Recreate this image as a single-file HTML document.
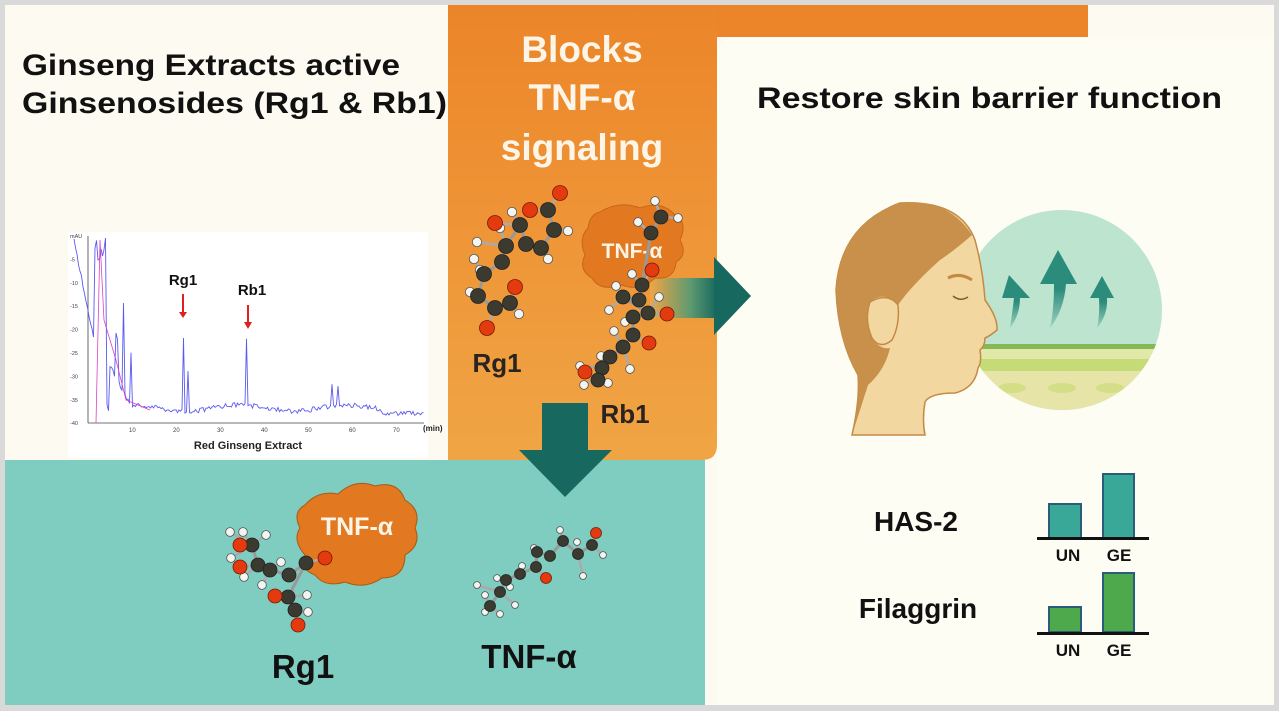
<!DOCTYPE html>
<html><head><meta charset="utf-8"><style>
html,body{margin:0;padding:0;width:1279px;height:711px;overflow:hidden;background:#d9d9d9}
svg{display:block}
text{font-family:"Liberation Sans","DejaVu Sans",sans-serif}
</style></head><body>
<svg id="s" width="1279" height="711" viewBox="0 0 1279 711" xmlns="http://www.w3.org/2000/svg">
<defs>
<linearGradient id="og" x1="0" y1="0" x2="0" y2="1"><stop offset="0" stop-color="#ec8529"/><stop offset="1" stop-color="#f0a545"/></linearGradient>
<linearGradient id="ar" x1="0" y1="0" x2="1" y2="0"><stop offset="0" stop-color="#f0a545"/><stop offset="0.6" stop-color="#5f9a70"/><stop offset="1" stop-color="#17695f"/></linearGradient>
<linearGradient id="up" x1="0" y1="0" x2="0" y2="1"><stop offset="0.5" stop-color="#2c8c7c"/><stop offset="1" stop-color="#2c8c7c" stop-opacity="0.2"/></linearGradient>
<clipPath id="cc"><circle cx="1062" cy="310" r="100"/></clipPath>
</defs>
<rect x="5" y="5" width="1269" height="700" fill="#fdfaf2"/>
<rect x="448" y="5" width="640" height="32" fill="#ec8529"/>
<path d="M448 5 H717 V445 Q717 460 702 460 H448 Z" fill="url(#og)"/>
<path d="M717 57 Q717 37 737 37 H1274 V705 H717 Z" fill="#fefdf3"/>
<rect x="5" y="460" width="700" height="245" fill="#7fcdc0"/>
<rect x="1274" y="0" width="5" height="711" fill="#d9d9d9"/>

<text x="22" y="75" font-size="30" font-weight="bold" fill="#111" textLength="378" lengthAdjust="spacingAndGlyphs">Ginseng Extracts active</text>
<text x="22" y="113" font-size="30" font-weight="bold" fill="#111" textLength="425" lengthAdjust="spacingAndGlyphs">Ginsenosides (Rg1 &amp; Rb1)</text>

<rect x="68" y="232" width="360" height="226" fill="#fff"/>
<g id="chrom"></g>
<text x="183" y="285" font-size="15" font-weight="bold" fill="#111" text-anchor="middle">Rg1</text>
<text x="252" y="295" font-size="15" font-weight="bold" fill="#111" text-anchor="middle">Rb1</text>
<line x1="183" y1="294" x2="183" y2="314" stroke="#e02020" stroke-width="2"/><path d="M179 312 L187 312 L183 318Z" fill="#e02020"/>
<line x1="248" y1="305" x2="248" y2="324" stroke="#e02020" stroke-width="2"/><path d="M244 322 L252 322 L248 329Z" fill="#e02020"/>
<text x="248" y="449" font-size="11" font-weight="bold" fill="#222" text-anchor="middle">Red Ginseng  Extract</text>
<text x="423" y="431" font-size="8" font-weight="bold" fill="#222">(min)</text>

<text x="582" y="62" font-size="37" font-weight="bold" fill="#fdf6e8" text-anchor="middle">Blocks</text>
<text x="582" y="110" font-size="37" font-weight="bold" fill="#fdf6e8" text-anchor="middle">TNF-α</text>
<text x="582" y="160" font-size="37" font-weight="bold" fill="#fdf6e8" text-anchor="middle">signaling</text>

<rect x="650" y="278" width="67" height="40" fill="url(#ar)"/>
<path d="M714 257 L751 296 L714 335Z" fill="#17695f"/>

<path d="M600 212 Q620 200 640 208 Q662 200 675 215 Q688 222 680 240 Q688 255 676 262 Q675 280 655 278 Q640 292 622 285 Q600 292 592 278 Q578 270 585 255 Q578 238 588 228 Q590 214 600 212Z" fill="#e2781f" stroke="#c8651a" stroke-width="1"/>
<text x="632" y="258" font-size="21" font-weight="bold" fill="#fdf6e8" text-anchor="middle">TNF-α</text>

<g id="mol"></g>

<text x="497" y="372" font-size="26" font-weight="bold" fill="#2a2320" text-anchor="middle">Rg1</text>
<text x="625" y="423" font-size="26" font-weight="bold" fill="#2a2320" text-anchor="middle">Rb1</text>

<rect x="542" y="403" width="46" height="48" fill="#17695f"/>
<path d="M519 450 L612 450 L565 497Z" fill="#17695f"/>

<path d="M305 505 Q318 490 338 494 Q355 478 375 486 Q398 480 405 500 Q422 510 415 528 Q422 545 405 555 Q405 578 382 578 Q365 590 345 582 Q325 588 315 575 Q300 570 305 555 Q292 540 300 528 Q292 512 305 505Z" fill="#e2781f" stroke="#a85a18" stroke-width="1"/>
<text x="357" y="535" font-size="25" font-weight="bold" fill="#fdf6e8" text-anchor="middle">TNF-α</text>
<g id="mol2"></g>
<text x="303" y="678" font-size="33" font-weight="bold" fill="#111" text-anchor="middle">Rg1</text>
<text x="529" y="668" font-size="33" font-weight="bold" fill="#111" text-anchor="middle">TNF-α</text>

<text x="757" y="108" font-size="30" font-weight="bold" fill="#111" textLength="465" lengthAdjust="spacingAndGlyphs">Restore skin barrier function</text>
<g clip-path="url(#cc)">
<rect x="960" y="205" width="210" height="210" fill="#bde4cf"/>
<rect x="960" y="344" width="210" height="5" fill="#86b85a"/>
<rect x="960" y="349" width="210" height="10" fill="#e2e8a8"/>
<rect x="960" y="359" width="210" height="12" fill="#c4db78"/>
<rect x="960" y="371" width="210" height="45" fill="#e6e4a6"/>
<ellipse cx="1012" cy="388" rx="14" ry="5" fill="#d3de86"/>
<ellipse cx="1062" cy="388" rx="14" ry="5" fill="#d3de86"/>
<ellipse cx="1110" cy="388" rx="14" ry="5" fill="#d3de86"/>
</g>
<path d="M1009 275 L1002 298 L1014 298 Q1012 315 1010 328 Q1020 315 1020 298 L1030 298Z" fill="url(#up)"/>
<path d="M1058 250 L1040 284 L1054 284 Q1054 310 1050 328 Q1064 310 1066 284 L1077 284Z" fill="url(#up)"/>
<path d="M1102 276 L1090 298 L1099 298 Q1100 315 1097 328 Q1108 315 1107 298 L1114 298Z" fill="url(#up)"/>
<path d="M852 435 Q860 400 858 375 Q838 340 836 290 Q840 225 900 203 Q960 200 975 240 Q983 270 985 300 Q998 318 997 330 Q990 336 985 338 Q985 346 980 350 Q982 362 978 368 Q975 388 955 393 Q930 393 925 402 Q922 420 925 435Z" fill="#f3d7a0" stroke="#c48a45" stroke-width="1.5"/>
<path d="M852 435 Q860 400 858 375 Q838 340 836 290 Q840 225 900 203 Q948 198 972 235 Q955 250 940 260 Q912 285 898 305 Q885 290 870 302 Q864 320 872 338 Q880 350 890 348 Q885 370 868 385 Q860 410 852 435Z" fill="#c8904a"/>
<path d="M870 302 Q888 292 898 305 Q900 325 892 340 Q880 350 872 338 Q864 320 870 302Z" fill="#f3d7a0" stroke="#c48a45" stroke-width="1.5"/>
<path d="M948 278 Q960 272 972 280" stroke="#c48a45" stroke-width="3" fill="none"/>
<path d="M953 296 Q960 302 968 297" stroke="#8a5a2a" stroke-width="1.5" fill="none"/>
<text x="916" y="531" font-size="28" font-weight="bold" fill="#111" text-anchor="middle">HAS-2</text>
<text x="918" y="618" font-size="28" font-weight="bold" fill="#111" text-anchor="middle">Filaggrin</text>
<rect x="1049" y="504" width="32" height="34" fill="#3aa898" stroke="#2b5c7a" stroke-width="2"/>
<rect x="1103" y="474" width="31" height="64" fill="#3aa898" stroke="#2b5c7a" stroke-width="2"/>
<rect x="1037" y="537" width="112" height="3" fill="#111"/>
<rect x="1049" y="607" width="32" height="25" fill="#4ea84c" stroke="#2b5c7a" stroke-width="2"/>
<rect x="1103" y="573" width="31" height="59" fill="#4ea84c" stroke="#2b5c7a" stroke-width="2"/>
<rect x="1037" y="632" width="112" height="3" fill="#111"/>
<text x="1068" y="561" font-size="17" font-weight="bold" fill="#111" text-anchor="middle">UN</text>
<text x="1119" y="561" font-size="17" font-weight="bold" fill="#111" text-anchor="middle">GE</text>
<text x="1068" y="656" font-size="17" font-weight="bold" fill="#111" text-anchor="middle">UN</text>
<text x="1119" y="656" font-size="17" font-weight="bold" fill="#111" text-anchor="middle">GE</text>
</svg>
<script>
var NS="http://www.w3.org/2000/svg";
function el(p,t,a){var e=document.createElementNS(NS,t);for(var k in a)e.setAttribute(k,a[k]);p.appendChild(e);return e;}
function mol(g,C,O,H,r){
 for(var i=0;i<C.length-1;i++)el(g,"line",{x1:C[i][0],y1:C[i][1],x2:C[i+1][0],y2:C[i+1][1],stroke:"#999","stroke-width":3});
 function near(p){var b=null,d=1e9;C.forEach(function(c){var dd=(c[0]-p[0])*(c[0]-p[0])+(c[1]-p[1])*(c[1]-p[1]);if(dd<d&&dd>1){d=dd;b=c;}});return b;}
 O.concat(H).forEach(function(p){var c=near(p);if(c)el(g,"line",{x1:p[0],y1:p[1],x2:c[0],y2:c[1],stroke:"#aaa","stroke-width":2.5});});
 H.forEach(function(p){el(g,"circle",{cx:p[0],cy:p[1],r:r*0.62,fill:"#f4f4f0",stroke:"#555","stroke-width":0.8});});
 C.forEach(function(p){el(g,"circle",{cx:p[0],cy:p[1],r:r,fill:"#3a3a30",stroke:"#222","stroke-width":0.8});});
 O.forEach(function(p){el(g,"circle",{cx:p[0],cy:p[1],r:r,fill:"#e33a10",stroke:"#7a1a05","stroke-width":0.8});});
}
var g=document.getElementById("mol"),g2=document.getElementById("mol2");
mol(g,[[548,210],[554,230],[541,248],[526,244],[520,225],[506,246],[502,262],[484,274],[478,296],[495,308],[510,303]],
 [[560,193],[530,210],[495,223],[515,287],[487,328]],
 [[512,212],[500,228],[477,242],[474,259],[470,292],[519,314],[568,231],[548,259],[480,270]],7.5);
mol(g,[[661,217],[651,233],[642,285],[639,300],[623,297],[648,313],[633,317],[633,335],[623,347],[610,357],[602,368],[598,380]],
 [[652,270],[667,314],[649,343],[585,372]],
 [[655,201],[678,218],[638,222],[632,274],[616,286],[659,297],[609,310],[625,322],[614,331],[601,356],[630,369],[580,366],[584,385],[608,383]],7);
mol(g2,[[252,545],[258,565],[270,570],[289,575],[306,563],[288,597],[295,610]],
 [[240,545],[240,567],[275,596],[298,625],[325,558]],
 [[230,532],[243,532],[266,535],[231,558],[244,577],[262,585],[281,562],[307,595],[308,612]],7);
mol(g2,[[592,545],[578,554],[563,541],[550,556],[537,552],[536,567],[520,574],[506,580],[500,592],[490,606]],
 [[596,533],[546,578]],
 [[560,530],[577,542],[603,555],[583,576],[534,548],[522,566],[497,578],[477,585],[510,587],[485,595],[485,612],[500,614],[515,605]],5.5);
var c=document.getElementById("chrom");
el(c,"line",{x1:88,y1:236,x2:88,y2:423,stroke:"#444","stroke-width":0.8});
el(c,"line",{x1:88,y1:423,x2:424,y2:423,stroke:"#444","stroke-width":0.8});
for(var i=1;i<8;i++){var x=88+i*44;el(c,"text",{x:x-3,y:432,"font-size":6,fill:"#444"}).textContent=i*10;}
for(var j=0;j<9;j++){var y=236+j*23.4;el(c,"text",{x:70,y:y+2,"font-size":5.5,fill:"#444"}).textContent=j?"-"+j*5:"mAU";}
var pts=[],s=1;function rnd(){s=(s*9301+49297)%233280;return s/233280;}
var peaks={96:-38,99:-18,101:-6,106:-160,108:-15,114:-60,116:-45,118:-40,124:-90,126:-70,129:-60,131:-50,184:-75,188:-40,247:-68,252:-40,318:-90,332:-20,338:-18,345:-20};
for(var x=74;x<=424;x+=1.5){var xi=Math.round(x);var base=x<110?420-(110-x)*5:(x<130?405-(130-x)*2:408-Math.sin(x/17)*3);if(x>380)base=413;var y=base+(rnd()-0.5)*5;if(peaks[xi])y+=peaks[xi];if(x>=94&&x<=106)y=Math.min(y,240+(rnd()*20));pts.push(x.toFixed(1)+","+Math.max(238,Math.min(423,y)).toFixed(1));}
el(c,"polyline",{points:pts.join(" "),fill:"none",stroke:"#5a5af0","stroke-width":0.9});
el(c,"path",{d:"M96 423 L100 240 L104 320 L116 360 L126 400 L150 410",fill:"none",stroke:"#e040c0","stroke-width":0.8});
</script>
</body></html>
